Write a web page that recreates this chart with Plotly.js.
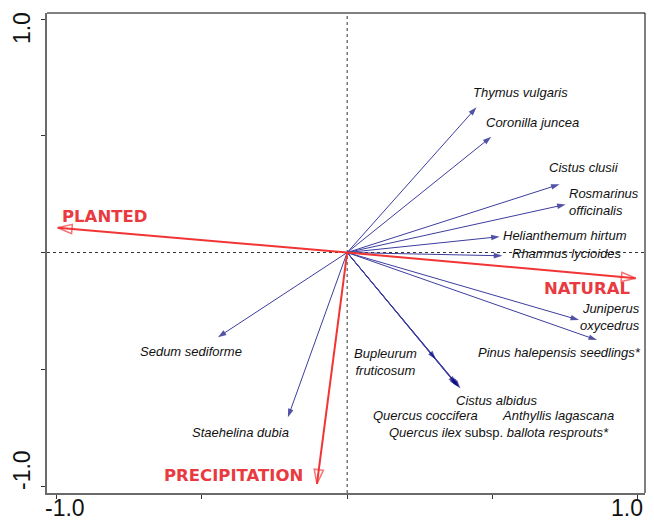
<!DOCTYPE html>
<html>
<head>
<meta charset="utf-8">
<script src="https://cdn.plot.ly/plotly-3.0.1.min.js"></script>
<style>
  html, body { margin: 0; padding: 0; background: #fff; }
  #chart { width: 654px; height: 520px; }
</style>
</head>
<body>
<div id="chart"></div>
<script>
// ---- Data: species vectors (biplot scores) ----
const speciesNames = [
  'Thymus vulgaris', 'Coronilla juncea', 'Cistus clusii', 'Rosmarinus officinalis',
  'Helianthemum hirtum', 'Rhamnus lycioides', 'Juniperus oxycedrus',
  'Pinus halepensis seedlings*', 'Bupleurum fruticosum', 'Cistus albidus',
  'Quercus coccifera', 'Anthyllis lagascana', 'Quercus ilex subsp. ballota resprouts*',
  'Sedum sediforme', 'Staehelina dubia'
];
const speciesX = [0.445, 0.496, 0.731, 0.752, 0.525, 0.534, 0.798, 0.860, 0.305, 0.390, 0.380, 0.385, 0.375, -0.445, -0.204];
const speciesY = [0.622, 0.496, 0.292, 0.206, 0.068, -0.014, -0.289, -0.375, -0.457, -0.582, -0.572, -0.576, -0.565, -0.363, -0.706];

// ---- Data: environmental variables ----
const envNames = ['PLANTED', 'NATURAL', 'PRECIPITATION'];
const envX = [-0.996, 0.993, -0.104];
const envY = [0.106, -0.110, -0.991];

// ---- Axis ticks ----
const tickVals = [-1, -0.5, 0, 0.5, 1];
const tickLabelVals = [-1, 1];
const tickLabelText = ['-1.0', '1.0'];

// ---- Label layout (positions in data space, alignment) ----
const speciesLabelLayout = {
  'Thymus vulgaris': {x: 0.597, y: 0.687, xa: 'center'},
  'Coronilla juncea': {x: 0.637, y: 0.559, xa: 'center'},
  'Cistus clusii': {x: 0.816, y: 0.366, xa: 'center'},
  'Rosmarinus officinalis': {x: 0.757, y: 0.216, xa: 'left', text: '<i>Rosmarinus</i><br><i>officinalis</i>'},
  'Helianthemum hirtum': {x: 0.530, y: 0.071, xa: 'left'},
  'Rhamnus lycioides': {x: 0.561, y: -0.006, xa: 'left'},
  'Juniperus oxycedrus': {x: 1.016, y: -0.274, xa: 'right', text: '<i>Juniperus</i><br><i>oxycedrus</i>'},
  'Pinus halepensis seedlings*': {x: 1.019, y: -0.430, xa: 'right', text: '<i>Pinus halepensis seedlings*</i>'},
  'Bupleurum fruticosum': {x: 0.133, y: -0.467, xa: 'center', text: '<i>Bupleurum</i><br><i>fruticosum</i>'},
  'Cistus albidus': {x: 0.515, y: -0.632, xa: 'center'},
  'Quercus coccifera': {x: 0.269, y: -0.700, xa: 'center'},
  'Anthyllis lagascana': {x: 0.726, y: -0.700, xa: 'center'},
  'Quercus ilex subsp. ballota resprouts*': {x: 0.523, y: -0.769, xa: 'center', text: '<i>Quercus ilex</i> subsp. <i>ballota resprouts*</i>'},
  'Sedum sediforme': {x: -0.537, y: -0.422, xa: 'center'},
  'Staehelina dubia': {x: -0.367, y: -0.769, xa: 'center'}
};
const envLabelLayout = {
  'PLANTED': {x: -0.835, y: 0.156},
  'NATURAL': {x: 0.826, y: -0.152},
  'PRECIPITATION': {x: -0.391, y: -0.957}
};

// ---- Build arrow traces ----
function arrowTrace(xs, ys, names, lineColor, lineWidth, headColor, headSize, symbol, headLineWidth) {
  const x = [], y = [], sizes = [], text = [];
  xs.forEach((v, i) => {
    x.push(0, v, null);
    y.push(0, ys[i], null);
    sizes.push(0, headSize, 0);
    text.push('', names[i], '');
  });
  return {
    type: 'scatter', mode: 'lines+markers', x, y, text,
    hoverinfo: 'text', showlegend: false,
    line: {color: lineColor, width: lineWidth},
    marker: {
      symbol: symbol, size: sizes, angleref: 'previous',
      color: headColor, line: {color: headColor, width: headLineWidth}
    }
  };
}

const traces = [
  arrowTrace(speciesX, speciesY, speciesNames, '#3d3d9e', 1, '#0a0a80', 9, 'arrow', 0),
  arrowTrace(envX, envY, envNames, '#f23434', 2, '#f23434', 15, 'arrow-open', 1.5)
];

// ---- Annotations ----
const annotations = [];
const labelFont = {family: 'Liberation Sans, Arial, sans-serif', size: 13, color: '#111'};
speciesNames.forEach(n => {
  const L = speciesLabelLayout[n];
  annotations.push({
    x: L.x, y: L.y, xref: 'x', yref: 'y', showarrow: false,
    text: L.text || ('<i>' + n + '</i>'),
    xanchor: L.xa, yanchor: 'middle', align: L.xa,
    font: labelFont
  });
});
envNames.forEach(n => {
  const L = envLabelLayout[n];
  annotations.push({
    x: L.x, y: L.y, xref: 'x', yref: 'y', showarrow: false,
    text: n, xanchor: 'center', yanchor: 'middle',
    font: {family: 'DejaVu Sans, sans-serif', size: 16.5, color: '#e83a3f', weight: 'bold'}
  });
});
// axis tick labels
const tickFont = {family: 'Liberation Sans, Arial, sans-serif', size: 23, color: '#111'};
const xShifts = [8, -11];
tickLabelVals.forEach((v, i) => {
  annotations.push({
    x: v, y: 0, xref: 'x', yref: 'paper', showarrow: false, text: tickLabelText[i],
    xanchor: 'center', yanchor: 'top', yshift: -1, xshift: xShifts[i], font: tickFont,
    borderpad: 0
  });
});
tickLabelVals.forEach((v, i) => {
  annotations.push({
    x: 0, y: v, xref: 'paper', yref: 'y', showarrow: false,
    text: tickLabelText[i], textangle: -90,
    xanchor: 'center', yanchor: 'middle', xshift: -25, yshift: v > 0 ? -9 : 16, font: tickFont
  });
});

const layout = {
  width: 654, height: 520,
  margin: {l: 47, r: 9, t: 13, b: 27},
  paper_bgcolor: '#fff', plot_bgcolor: '#fff',
  xaxis: {
    range: [-1.033, 1.025], showgrid: false, zeroline: false,
    showline: true, linewidth: 2, linecolor: '#6a6a6a',
    ticks: 'outside', ticklen: 4, tickwidth: 1, tickcolor: '#333',
    tickvals: tickVals, showticklabels: false, fixedrange: true
  },
  yaxis: {
    range: [-1.03, 1.026], showgrid: false, zeroline: false,
    showline: true, linewidth: 2, linecolor: '#6a6a6a',
    ticks: 'outside', ticklen: 4, tickwidth: 1, tickcolor: '#333',
    tickvals: tickVals, showticklabels: false, fixedrange: true
  },
  shapes: [
    {type: 'line', xref: 'paper', yref: 'paper', x0: 0, x1: 1, y0: 1, y1: 1, line: {color: '#000', width: 1}},
    {type: 'line', xref: 'paper', yref: 'paper', x0: 1, x1: 1, y0: 0, y1: 1, line: {color: '#000', width: 1}},
    {type: 'line', xref: 'x', yref: 'paper', x0: 0, x1: 0, y0: 0, y1: 1, layer: 'below', line: {color: '#333', width: 1, dash: '3px,3px'}},
    {type: 'line', xref: 'paper', yref: 'y', x0: 0, x1: 1, y0: 0, y1: 0, layer: 'below', line: {color: '#333', width: 1, dash: '3px,3px'}}
  ],
  annotations: annotations,
  showlegend: false
};

Plotly.newPlot('chart', traces, layout, {displayModeBar: false, staticPlot: true});
</script>
</body>
</html>
